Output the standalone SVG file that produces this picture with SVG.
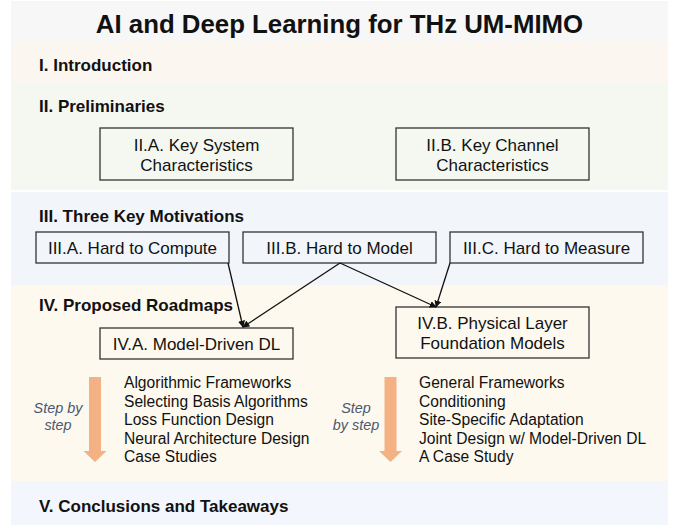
<svg xmlns="http://www.w3.org/2000/svg" width="678" height="525" viewBox="0 0 678 525">
<defs>
<style>
text{font-family:"Liberation Sans",Arial,sans-serif;fill:#111}
.title{font-size:25.8px;font-weight:bold;text-anchor:middle}
.hdr{font-size:17px;font-weight:bold}
.box{fill:none;stroke:#333;stroke-width:1.3}
.bt{font-size:17px;text-anchor:middle}
.li{font-size:15.6px}
.step{font-size:14.4px;font-style:italic;fill:#4a5870;text-anchor:middle}
.conn{stroke:#111;stroke-width:1.3;fill:none;marker-end:url(#ah)}
.oarrow{fill:#f4b183}
</style>
<marker id="ah" viewBox="0 0 10 10" refX="9" refY="5" markerWidth="7" markerHeight="7" markerUnits="userSpaceOnUse" orient="auto">
<path d="M0,0 L10,5 L0,10 z" fill="#111"/>
</marker>
</defs>
<rect width="678" height="525" fill="#ffffff"/>
<g id="bands">
<rect x="11" y="1" width="657" height="41" fill="#f7f7f8"/>
<rect x="11" y="42" width="657" height="41" fill="#fbf6f0"/>
<rect x="11" y="83" width="657" height="107" fill="#f5f8f1"/>
<rect x="11" y="192" width="657" height="93" fill="#f2f6fb"/>
<rect x="11" y="285" width="657" height="196" fill="#fdf9ef"/>
<rect x="11" y="481" width="657" height="44" fill="#f3f6fc"/>
</g>
<text class="title" x="339.5" y="33">AI and Deep Learning for THz UM-MIMO</text>
<g id="headers">
<text class="hdr" x="39" y="71">I. Introduction</text>
<text class="hdr" x="39" y="112">II. Preliminaries</text>
<text class="hdr" x="39" y="222">III. Three Key Motivations</text>
<text class="hdr" x="39" y="311">IV. Proposed Roadmaps</text>
<text class="hdr" x="39" y="512">V. Conclusions and Takeaways</text>
</g>
<g id="node-IIA">
<rect class="box" x="100" y="128" width="193" height="52"/>
<text class="bt" x="196.5" y="151">II.A. Key System</text>
<text class="bt" x="196.5" y="171">Characteristics</text>
</g>
<g id="node-IIB">
<rect class="box" x="396" y="128" width="193" height="52"/>
<text class="bt" x="492.5" y="151">II.B. Key Channel</text>
<text class="bt" x="492.5" y="171">Characteristics</text>
</g>
<g id="node-IIIA">
<rect class="box" x="36" y="232" width="193" height="31"/>
<text class="bt" x="132.5" y="254">III.A. Hard to Compute</text>
</g>
<g id="node-IIIB">
<rect class="box" x="243" y="232" width="193" height="31"/>
<text class="bt" x="339.5" y="254">III.B. Hard to Model</text>
</g>
<g id="node-IIIC">
<rect class="box" x="450" y="232" width="193" height="31"/>
<text class="bt" x="546.5" y="254">III.C. Hard to Measure</text>
</g>
<g id="node-IVA">
<rect class="box" x="100" y="328" width="193" height="31"/>
<text class="bt" x="196.5" y="350">IV.A. Model-Driven DL</text>
</g>
<g id="node-IVB">
<rect class="box" x="396" y="307" width="193" height="51"/>
<text class="bt" x="492.5" y="329">IV.B. Physical Layer</text>
<text class="bt" x="492.5" y="349">Foundation Models</text>
</g>
<g id="connectors">
<path class="conn" d="M228,263 L243,327"/>
<path class="conn" d="M340,263 L243,327"/>
<path class="conn" d="M340,263 L436,307"/>
<path class="conn" d="M450,263 L436,307"/>
</g>
<g id="steps-IVA">
<path class="oarrow" d="M89,377 H101 V451 H106.5 L95,462 L83.5,451 H89 Z"/>
<text class="step" x="58" y="413">Step by</text>
<text class="step" x="58" y="430">step</text>
<text class="li" x="124" y="388">Algorithmic Frameworks</text>
<text class="li" x="124" y="406.5">Selecting Basis Algorithms</text>
<text class="li" x="124" y="425">Loss Function Design</text>
<text class="li" x="124" y="443.5">Neural Architecture Design</text>
<text class="li" x="124" y="462">Case Studies</text>
</g>
<g id="steps-IVB">
<path class="oarrow" d="M384.5,377 H396.5 V451 H402 L390.5,462 L379,451 H384.5 Z"/>
<text class="step" x="356" y="413">Step</text>
<text class="step" x="356" y="430">by step</text>
<text class="li" x="419" y="388">General Frameworks</text>
<text class="li" x="419" y="406.5">Conditioning</text>
<text class="li" x="419" y="425">Site-Specific Adaptation</text>
<text class="li" x="419" y="443.5">Joint Design w/ Model-Driven DL</text>
<text class="li" x="419" y="462">A Case Study</text>
</g>
</svg>
